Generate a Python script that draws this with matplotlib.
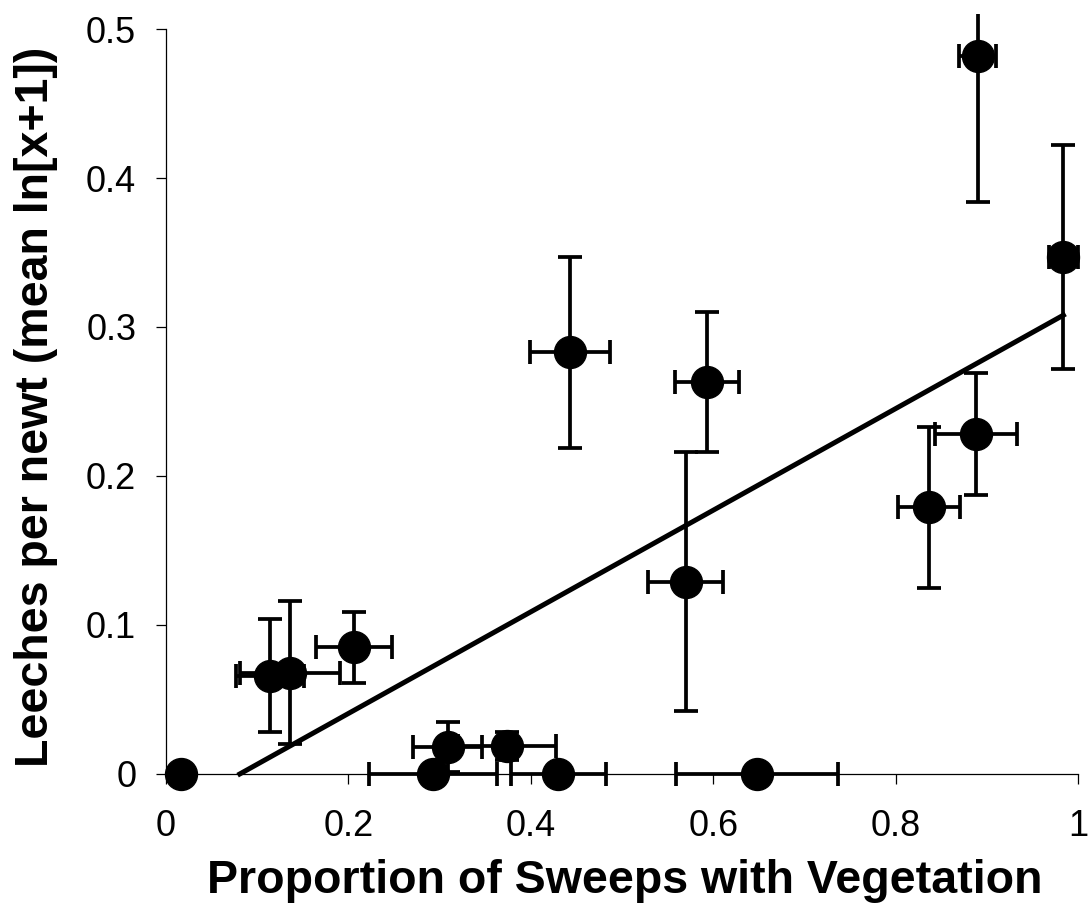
import numpy as np
import matplotlib
matplotlib.use("Agg")
import matplotlib.pyplot as plt

plt.rcParams['font.family'] = ['Liberation Sans', 'DejaVu Sans']

# proportion of sweeps with vegetation, and its error
veg = [0.016, 0.114, 0.136, 0.206, 0.293, 0.309, 0.374, 0.430,
       0.443, 0.593, 0.570, 0.648, 0.837, 0.888, 0.890, 0.984]
veg_err = [0.0, 0.037, 0.055, 0.042, 0.070, 0.038, 0.054, 0.052,
           0.044, 0.035, 0.041, 0.089, 0.034, 0.045, 0.020, 0.016]

# leeches per newt (mean ln[x+1]), and its error
leech = [0.0, 0.066, 0.068, 0.085, 0.0, 0.018, 0.019, 0.0,
         0.283, 0.263, 0.129, 0.0, 0.179, 0.228, 0.482, 0.347]
leech_err = [0.0, 0.038, 0.048, 0.024, 0.0, 0.017, 0.0095, 0.0,
             0.064, 0.047, 0.087, 0.0, 0.054, 0.041, 0.098, 0.075]

# fitted trend line
slope = 0.341
intercept = -0.0276

xticks = [0, 0.2, 0.4, 0.6, 0.8, 1.0]
xticklabels = ['0', '0.2', '0.4', '0.6', '0.8', '1']
yticks = [0, 0.1, 0.2, 0.3, 0.4, 0.5]
yticklabels = ['0', '0.1', '0.2', '0.3', '0.4', '0.5']

fig = plt.figure(figsize=(10.92, 9.05), dpi=100)
ax = fig.add_axes([0.1353, 0.0954, 0.8644, 0.889])

ax.errorbar(veg, leech, xerr=veg_err, yerr=leech_err, fmt='o', color='black',
            markersize=23, elinewidth=2.7, capsize=8.4, capthick=2.7, zorder=3)

# trend line from where it crosses zero up to the largest x
x0 = -intercept / slope
xs = np.array([x0, max(veg)])
ax.plot(xs, slope * xs + intercept, color='black', linewidth=3.6, zorder=2)

ax.set_xlim(-0.02, 1.015)
ax.set_ylim(-0.03, 0.51)

ax.spines['top'].set_visible(False)
ax.spines['right'].set_visible(False)
ax.spines['left'].set_position(('data', 0))
ax.spines['bottom'].set_position(('data', 0))
ax.spines['left'].set_bounds(0, 0.5)
ax.spines['bottom'].set_bounds(0, 1)
ax.spines['left'].set_linewidth(0.9)
ax.spines['bottom'].set_linewidth(0.9)

ax.set_xticks(xticks)
ax.set_xticklabels(xticklabels)
ax.set_yticks(yticks)
ax.set_yticklabels(yticklabels)
ax.tick_params(axis='both', direction='out', length=7.5, width=0.9, labelsize=26)
ax.tick_params(axis='y', pad=14)
ax.tick_params(axis='x', pad=18)

fig.text(0.572, 0.0133, 'Proportion of Sweeps with Vegetation', ha='center',
         va='baseline', fontsize=33.5, fontweight='bold')
fig.text(0.033, 0.550, 'Leeches per newt (mean ln[x+1])', ha='center',
         va='center', rotation=90, fontsize=33.5, fontweight='bold')

fig.savefig('out.png', dpi=100)
